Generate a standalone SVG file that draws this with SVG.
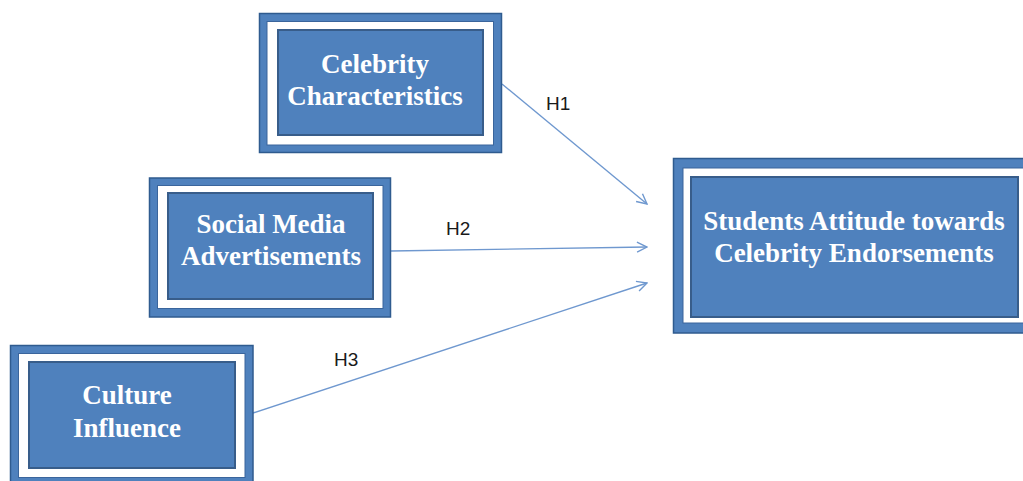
<svg xmlns="http://www.w3.org/2000/svg" width="1023" height="481" viewBox="0 0 1023 481">
<style>
.outer{fill:#4F81BD;stroke:#2F5B8F;stroke-width:1.5}
.gap{fill:#FFFFFF;stroke:#3A659C;stroke-width:1}
.inner{fill:#4F81BD;stroke:#385D8A;stroke-width:2}
.t{font-family:"Liberation Serif","Times New Roman",serif;font-weight:bold;font-size:27px;fill:#FFFFFF;text-anchor:middle}
.lbl{font-family:"Liberation Sans",Arial,sans-serif;font-size:19px;fill:#1A1A1A}
.c{stroke:#6F98CF;stroke-width:1.4;fill:none}
</style>
<defs>
<marker id="ah" markerUnits="userSpaceOnUse" viewBox="0 0 12 12" refX="11" refY="6" markerWidth="12" markerHeight="12" orient="auto">
<path d="M1,1 L11,6 L1,11" fill="none" stroke="#6F98CF" stroke-width="1.4"/>
</marker>
</defs>
<rect width="1023" height="481" fill="#FFFFFF"/>
<g id="connectors">
<line class="c" x1="502" y1="84" x2="647" y2="204" marker-end="url(#ah)"/>
<line class="c" x1="391" y1="251" x2="647" y2="247" marker-end="url(#ah)"/>
<line class="c" x1="253" y1="413" x2="647" y2="283" marker-end="url(#ah)"/>
<text class="lbl" x="546" y="110">H1</text>
<text class="lbl" x="446" y="235">H2</text>
<text class="lbl" x="334" y="366">H3</text>
</g>
<g id="celebrity-characteristics">
<rect class="outer" x="259.5" y="13.5" width="242" height="139"/>
<rect class="gap" x="267" y="21.5" width="226.5" height="123.5"/>
<rect class="inner" x="278" y="30" width="205" height="105"/>
<text class="t" x="375" y="73">Celebrity</text>
<text class="t" x="375" y="105">Characteristics</text>
</g>
<g id="social-media-advertisements">
<rect class="outer" x="149.5" y="178" width="241" height="139"/>
<rect class="gap" x="157.5" y="185.5" width="225.5" height="123"/>
<rect class="inner" x="168" y="193" width="205" height="106"/>
<text class="t" x="271" y="233">Social Media</text>
<text class="t" x="271" y="265">Advertisements</text>
</g>
<g id="culture-influence">
<rect class="outer" x="10.5" y="345.5" width="242.5" height="142"/>
<rect class="gap" x="18.5" y="353.5" width="226.5" height="124"/>
<rect class="inner" x="29" y="362" width="206" height="106"/>
<text class="t" x="127" y="404">Culture</text>
<text class="t" x="127" y="437">Influence</text>
</g>
<g id="students-attitude">
<rect class="outer" x="673.5" y="158.5" width="360" height="174.5"/>
<rect class="gap" x="683" y="168" width="345" height="155"/>
<rect class="inner" x="691" y="177" width="327" height="140"/>
<text class="t" x="854" y="230">Students Attitude towards</text>
<text class="t" x="854" y="262">Celebrity Endorsements</text>
</g>
</svg>
